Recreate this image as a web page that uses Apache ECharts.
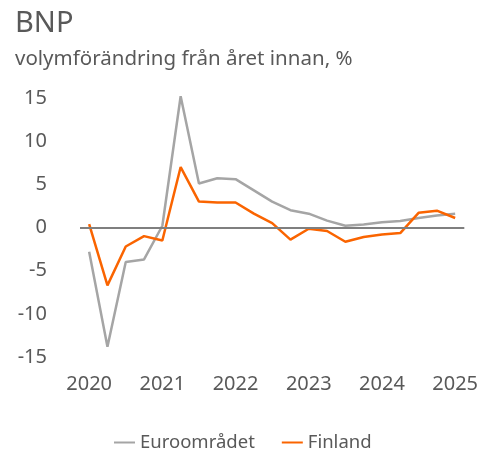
<!DOCTYPE html>
<html>
<head>
<meta charset="utf-8">
<script src="https://cdn.jsdelivr.net/npm/echarts@6/dist/echarts.min.js"></script>
<style>
  html, body {margin: 0; padding: 0; background: #fff;}
  #chart {width: 481px; height: 449px;}
</style>
</head>
<body>
<div id="chart"></div>
<script>
const years = ['2020', '2021', '2022', '2023', '2024', '2025'];
const quarters = [];
years.forEach(y => ['K1', 'K2', 'K3', 'K4'].forEach(q => quarters.push(y + q)));
quarters.splice(21); // 2020K1 .. 2025K1

const euroomradet = [-2.8, -13.8, -4.0, -3.7, 0.2, 15.2, 5.1, 5.7, 5.6, 4.3, 3.0,
	2.0, 1.6, 0.8, 0.2, 0.35, 0.6, 0.75, 1.1, 1.4, 1.6];
const finland = [0.4, -6.7, -2.2, -1.0, -1.5, 7.0, 3.0, 2.9, 2.9, 1.6, 0.5,
	-1.4, -0.15, -0.4, -1.65, -1.1, -0.8, -0.65, 1.7, 1.95, 1.1];

const font = 'Noto Sans';
const textColor = '#595959';

const myChart = echarts.init(document.getElementById('chart'));
myChart.setOption({
	animation: false,
	textStyle: {fontFamily: font},
	title: [
		{
			text: 'BNP',
			left: 10,
			top: 4,
			textStyle: {fontFamily: font, fontSize: 29, fontWeight: 'normal', color: textColor}
		},
		{
			text: 'volymförändring från året innan, %',
			left: 10,
			top: 44,
			textStyle: {fontFamily: font, fontSize: 20.5, fontWeight: 'normal', color: textColor}
		}
	],
	grid: {left: 80, right: 15, top: 98, bottom: 92},
	legend: {
		left: 109,
		top: 428,
		icon: 'rect',
		itemWidth: 21,
		itemHeight: 2,
		itemGap: 27,
		textStyle: {fontFamily: font, fontSize: 18.5, color: textColor},
		data: ['Euroområdet', 'Finland']
	},
	xAxis: {
		type: 'category',
		data: quarters,
		boundaryGap: true,
		axisLine: {show: false, onZero: false},
		axisTick: {show: false},
		axisLabel: {
			interval: 3,
			margin: 17,
			fontSize: 20,
			color: textColor,
			formatter: v => v.slice(0, 4)
		}
	},
	yAxis: {
		type: 'value',
		min: -15,
		max: 15,
		interval: 5,
		axisLine: {show: false},
		axisTick: {show: false},
		splitLine: {show: false},
		axisLabel: {margin: 33, fontSize: 20, color: textColor}
	},
	series: [
		{
			name: 'Euroområdet',
			type: 'line',
			data: euroomradet,
			symbol: 'none',
			clip: false,
			color: '#a5a5a5',
			lineStyle: {width: 2.5, color: '#a5a5a5'},
			markLine: {
				silent: true,
				symbol: 'none',
				label: {show: false},
				lineStyle: {color: '#7f7f7f', width: 2, type: 'solid'},
				data: [{yAxis: 0}]
			}
		},
		{
			name: 'Finland',
			type: 'line',
			data: finland,
			symbol: 'none',
			clip: false,
			color: '#fa6400',
			lineStyle: {width: 2.5, color: '#fa6400'}
		}
	]
});
</script>
</body>
</html>
